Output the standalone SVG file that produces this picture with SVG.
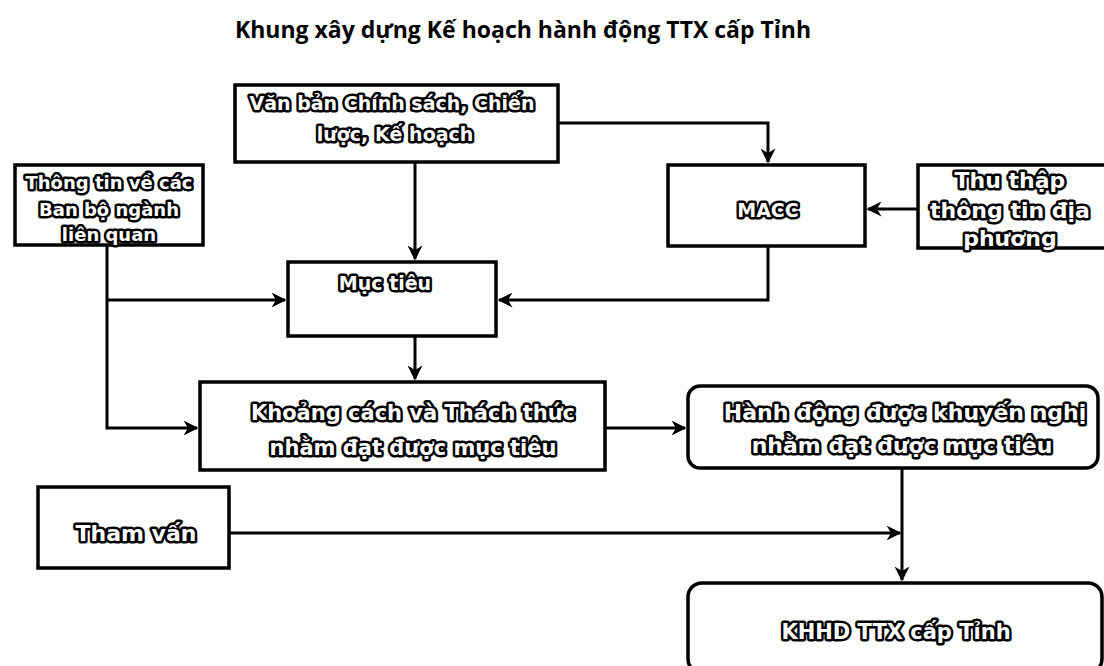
<svg xmlns="http://www.w3.org/2000/svg" width="1104" height="666" viewBox="0 0 1104 666">
<defs>
<marker id="ah" viewBox="0 0 10 10" refX="9" refY="5" markerWidth="5" markerHeight="5" orient="auto" markerUnits="strokeWidth">
<path d="M0,0 L10,5 L0,10 L3,5 z" fill="#000"/>
</marker>
</defs>
<style>
.title{font-family:"Open Sans","DejaVu Sans",sans-serif;font-weight:bold;font-size:23px;fill:#000;text-anchor:middle}
.box{fill:#fff;stroke:#000;stroke-width:3.5}
.lbl{font-family:"DejaVu Sans","Open Sans",sans-serif;font-weight:bold;fill:#fff;stroke:#000;stroke-width:5;stroke-linejoin:round;paint-order:stroke;text-anchor:middle}
.conn{fill:none;stroke:#000;stroke-width:3}
</style>
<rect width="1104" height="666" fill="#fff"/>
<text class="title" x="523" y="38">Khung xây dựng Kế hoạch hành động TTX cấp Tỉnh</text>

<g id="connectors">
<polyline class="conn" points="558,123 768,123 768,162" marker-end="url(#ah)"/>
<polyline class="conn" points="415,162 415,259" marker-end="url(#ah)"/>
<polyline class="conn" points="107,245 107,428 197,428" marker-end="url(#ah)"/>
<polyline class="conn" points="107,300 285,300" marker-end="url(#ah)"/>
<polyline class="conn" points="918,209 868,209" marker-end="url(#ah)"/>
<polyline class="conn" points="768,246 768,300 499,300" marker-end="url(#ah)"/>
<polyline class="conn" points="415,336 415,379" marker-end="url(#ah)"/>
<polyline class="conn" points="605,428 685,428" marker-end="url(#ah)"/>
<polyline class="conn" points="902,468 902,580" marker-end="url(#ah)"/>
<polyline class="conn" points="229,533 900,533" marker-end="url(#ah)"/>
</g>

<g id="n-vanban" font-size="19">
<rect class="box" x="235" y="85" width="323" height="77"/>
<text class="lbl" x="392" y="110">Văn bản Chính sách, Chiến</text>
<text class="lbl" x="395" y="141">lược, Kế hoạch</text>
</g>

<g id="n-thongtin" font-size="18">
<rect class="box" x="15" y="165" width="188" height="80"/>
<text class="lbl" x="109" y="189">Thông tin về các</text>
<text class="lbl" x="109" y="216">Ban bộ ngành</text>
<text class="lbl" x="109" y="241">liên quan</text>
</g>

<g id="n-macc" font-size="19">
<rect class="box" x="668" y="165" width="197" height="81"/>
<text class="lbl" x="768" y="217">MACC</text>
</g>

<g id="n-thuthap" font-size="22">
<rect class="box" x="918" y="165" width="190" height="83"/>
<text class="lbl" x="1010" y="188">Thu thập</text>
<text class="lbl" x="1010" y="218">thông tin địa</text>
<text class="lbl" x="1010" y="246">phương</text>
</g>

<g id="n-muctieu" font-size="19">
<rect class="box" x="288" y="262" width="208" height="74"/>
<text class="lbl" x="385" y="290">Mục tiêu</text>
</g>

<g id="n-khoangcach" font-size="21">
<rect class="box" x="200" y="382" width="405" height="88"/>
<text class="lbl" x="413" y="420">Khoảng cách và Thách thức</text>
<text class="lbl" x="413" y="455">nhằm đạt được mục tiêu</text>
</g>

<g id="n-hanhdong" font-size="22">
<rect class="box" x="688" y="386" width="410" height="82" rx="12"/>
<text class="lbl" x="905" y="420">Hành động được khuyến nghị</text>
<text class="lbl" x="902" y="453">nhằm đạt được mục tiêu</text>
</g>

<g id="n-thamvan" font-size="22">
<rect class="box" x="38" y="487" width="191" height="81"/>
<text class="lbl" x="136" y="541">Tham vấn</text>
</g>

<g id="n-khhd" font-size="21">
<rect class="box" x="688" y="583" width="414" height="90" rx="14"/>
<text class="lbl" x="896" y="639">KHHD TTX cấp Tỉnh</text>
</g>
</svg>
